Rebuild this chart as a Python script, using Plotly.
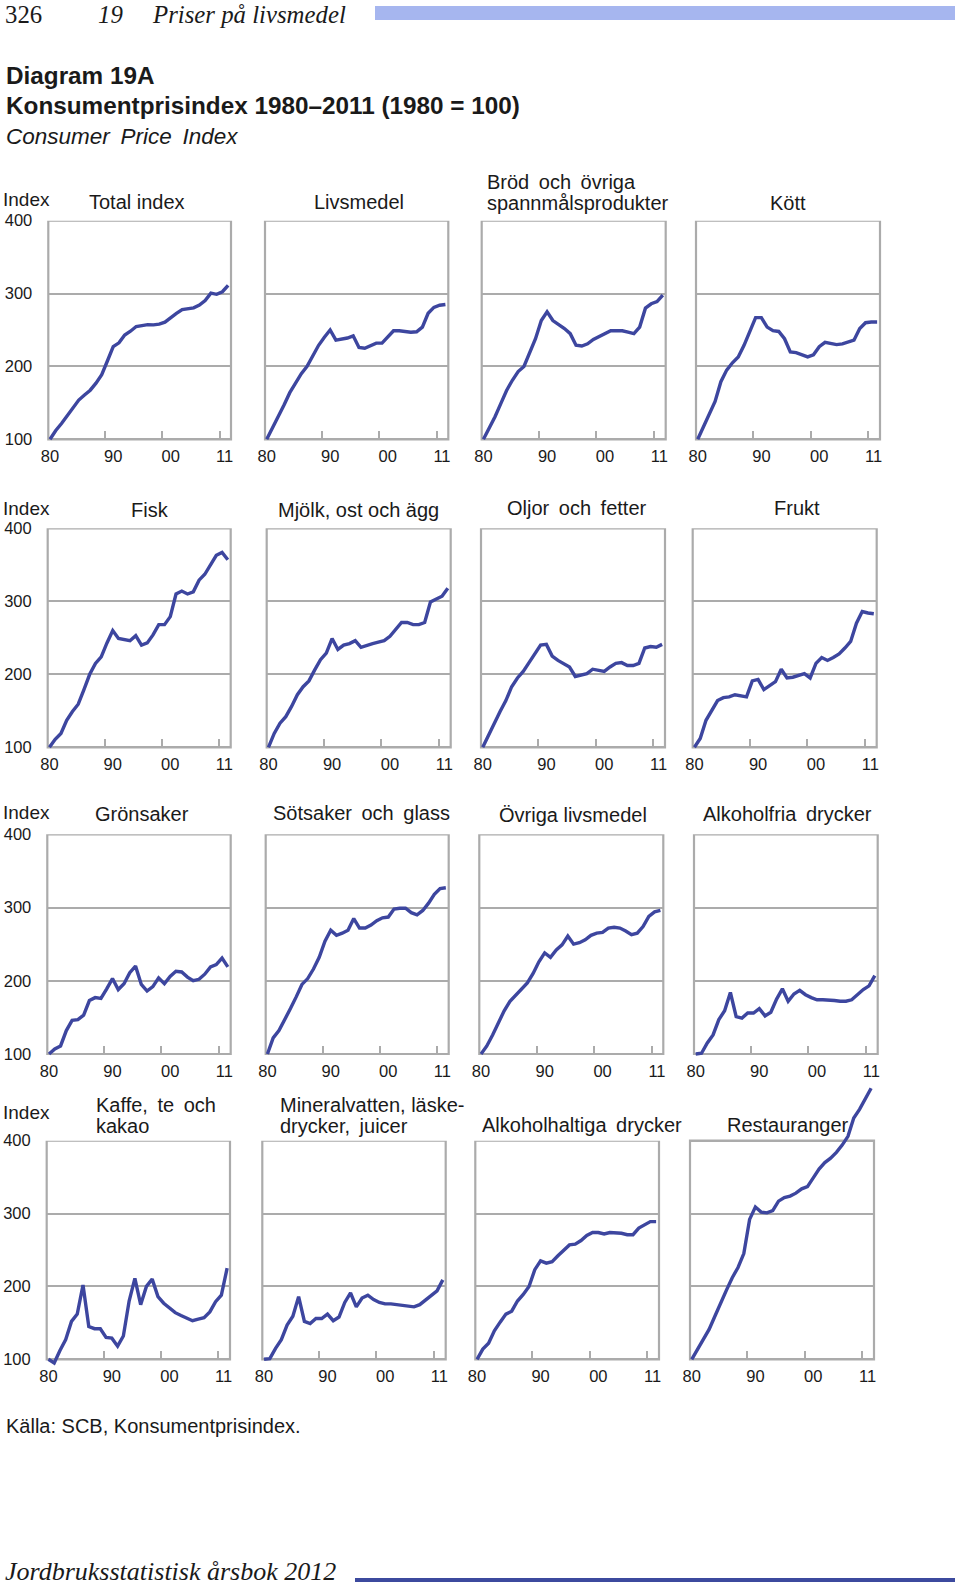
import plotly.graph_objects as go

# ---------------- data ----------------
YEARS = list(range(1980, 2012))

TITLES = [
    "Total index", "Livsmedel", "Bröd \u2009och \u2009övriga|spannmålsprodukter", "Kött",
    "Fisk", "Mjölk, ost och ägg", "Oljor \u2009och \u2009fetter", "Frukt",
    "Grönsaker", "Sötsaker \u2009och \u2009glass", "Övriga livsmedel", "Alkoholfria \u2009drycker",
    "Kaffe, \u2009te \u2009och|kakao", "Mineralvatten, läske-|drycker, \u2009juicer",
    "Alkoholhaltiga \u2009drycker", "Restauranger",
]

total_index = [100, 112.1, 121.7, 132.1, 142.9, 153.8, 160.8, 167.4, 177.1, 188.6, 207.8,
               227.2, 232.4, 243.2, 248.3, 254.8, 256.0, 257.3, 257.0, 258.1, 260.8,
               267.1, 272.8, 278.1, 279.2, 280.4, 284.2, 290.5, 300.6, 299.0, 302.5, 311.4]
livsmedel = [100, 115, 131, 147, 164, 177, 190, 200, 215, 229, 240,
             250, 236, 237, 239, 242, 226, 225, 228, 232, 232,
             241, 249, 249, 248, 247, 247.5, 254, 273, 281, 284, 285]
brod = [100, 115, 131, 149, 167, 181, 193, 200, 218, 238, 263,
        275, 263, 258, 252, 245, 229, 228, 231, 237, 241,
        244, 249, 249, 249, 247, 245, 254, 280, 286, 289, 298]
kott = [100, 117, 133, 152, 179, 195, 205, 213, 229, 247, 267,
        267, 254, 249, 248, 238, 220, 219, 216, 213, 216,
        227, 233, 232, 230, 231, 234, 236, 252, 260, 261, 261]
fisk = [100, 111, 119, 137, 149, 159, 179, 200, 215, 224, 243,
        260, 249, 248, 246, 253, 240, 243, 254, 268, 268,
        279, 310, 314, 310, 313, 329, 337, 351, 363, 367, 357]
mjolk = [100, 119, 133, 142, 156, 172, 183, 191, 206, 220, 229,
         249, 234, 240, 242, 246, 237, 240, 242, 244, 246,
         252, 262, 271, 271, 268, 268, 271, 299, 303, 307, 318]
oljor = [100, 117, 133, 149, 164, 183, 195, 204, 216, 229, 240,
         241, 225, 219, 214, 210, 197, 199, 201, 207, 206,
         204, 210, 215, 216, 212, 212, 215, 236, 238, 237, 241]
frukt = [100, 112, 137, 151, 164, 168, 169, 172, 171, 169, 191,
         193, 179, 184, 190, 207, 195, 196, 199, 201, 195,
         215, 223, 219, 223, 228, 236, 245, 270, 286, 284, 283]
gronsaker = [100, 107, 111, 132, 146, 147, 153, 173, 177, 176, 189,
             203, 188, 196, 211, 220, 195, 186, 192, 204, 196,
             206, 213, 212, 205, 200, 202, 209, 219, 222, 231, 219]
sotsaker = [100, 122, 132, 146, 162, 178, 195, 203, 216, 232, 254,
            269, 262, 265, 269, 285, 272, 272, 276, 282, 286,
            287, 298, 299, 299, 293, 290, 296, 306, 318, 326, 327]
ovriga = [100, 111, 126, 143, 159, 172, 180, 188, 197, 210, 226,
          238, 232, 242, 249, 261, 250, 252, 256, 262, 265,
          266, 272, 273, 272, 268, 263, 265, 274, 288, 294, 296]
alkoholfria = [100, 101, 115, 126, 147, 159, 184, 151, 149, 156, 156,
               162, 152, 157, 175, 189, 172, 182, 187, 181, 177,
               174, 174, 174, 173, 172, 172, 174, 181, 188, 193, 207]
kaffe = [100, 95, 112, 127, 152, 162, 202, 145, 142, 142, 130,
         129, 118, 132, 180, 211, 175, 200, 210, 186, 177,
         170, 164, 160, 156, 153, 155, 157, 165, 179, 188, 225]
mineral = [100, 101, 115, 127, 147, 159, 186, 152, 149, 156, 156,
           162, 153, 158, 178, 191, 172, 184, 188, 182, 178,
           176, 176, 175, 175, 173, 172, 175, 181, 188, 194, 209]
alkoholhaltiga = [100, 114, 122, 139, 151, 162, 166, 180, 189, 200, 223,
                  235, 232, 234, 242, 249, 257, 258, 263, 270, 274,
                  274, 272, 274, 274, 273, 271, 271, 280, 285, 289, 289]
restauranger = [100, 113, 126, 141, 159, 178, 195, 212, 226, 245, 292,
                309, 302, 301, 304, 317, 322, 324, 328, 334, 337,
                349, 361, 370, 376, 384, 394, 406, 431, 443, 457, 472]

SERIES = [total_index, livsmedel, brod, kott,
          fisk, mjolk, oljor, frukt,
          gronsaker, sotsaker, ovriga, alkoholfria,
          kaffe, mineral, alkoholhaltiga, restauranger]

Y_TICKS = [100, 200, 300, 400]
X_TICK_TEXT = ["80", "90", "00", "11"]

# ---------------- layout / style ----------------
W, H = 960, 1591
LINE_COLOR = "#3d469f"
FRAME_COLOR = "#ababab"
TEXT_COLOR = "#1a1a1a"
SANS = "Liberation Sans, Arial, sans-serif"
SERIF = "Liberation Serif, Times New Roman, serif"

X_RANGE = [1979.7, 2011.5]
X_LABEL_POS = [1980, 1991.0, 2001.0, 2010.4]
X_MINOR_POS = [1989.6, 1999.5, 2009.5]

ROW_FRAMES = [(220.7, 439.3), (528.3, 747.3), (834.3, 1054.0), (1140.7, 1359.3)]
COL_FRAMES = [
    [(48.3, 231.0), (265.0, 448.3), (481.7, 665.7), (696.0, 880.0)],
    [(47.7, 230.7), (266.7, 450.7), (481.0, 665.0), (692.7, 876.7)],
    [(47.3, 230.7), (265.7, 448.7), (479.3, 663.3), (694.0, 877.7)],
    [(46.7, 230.0), (262.3, 445.7), (475.3, 659.0), (690.0, 874.0)],
]
# title placement: (x, y, anchor)
TITLE_POS = [
    (137, 202, "center"), (359, 202, "center"), (485, 192.5, "left"), (787.5, 203, "center"),
    (150, 510, "center"), (358.5, 510, "center"), (577, 508, "center"), (796.5, 508, "center"),
    (141.5, 814, "center"), (361, 813, "center"), (572.5, 815, "center"), (787.5, 814, "center"),
    (94, 1115.5, "left"), (278, 1115.5, "left"), (582, 1125, "center"), (788, 1125, "center"),
]
INDEX_Y = [200, 509, 812, 1112]


def px(x):
    return x / W


def py(y):
    return 1 - y / H


fig = go.Figure()
layout = {}
shapes = []
annotations = []

for i, series in enumerate(SERIES):
    n = i + 1
    r, c = divmod(i, 4)
    top, bot = ROW_FRAMES[r]
    left, right = COL_FRAMES[r][c]
    k = (bot - top) / 300.0
    ymin = 88
    ymax = 480 if i == 15 else 400
    dom_bot = bot + (100 - ymin) * k
    dom_top = top - (ymax - 400) * k
    xa = "x" if n == 1 else f"x{n}"
    ya = "y" if n == 1 else f"y{n}"
    xk = "xaxis" if n == 1 else f"xaxis{n}"
    yk = "yaxis" if n == 1 else f"yaxis{n}"

    fig.add_trace(go.Scatter(
        x=YEARS, y=series, xaxis=xa, yaxis=ya, mode="lines",
        line=dict(color=LINE_COLOR, width=3.4), showlegend=False, hoverinfo="skip",
    ))

    layout[xk] = dict(
        domain=[px(left), px(right)], range=X_RANGE, anchor="free", position=py(bot),
        tickmode="array", tickvals=X_LABEL_POS, ticktext=X_TICK_TEXT, ticks="",
        showgrid=False, zeroline=False, showline=False, fixedrange=True,
        tickfont=dict(family=SANS, size=16.5, color=TEXT_COLOR), ticklabelstandoff=5,
        minor=dict(tickmode="array", tickvals=X_MINOR_POS, ticks="inside", ticklen=8,
                   tickwidth=2, tickcolor=FRAME_COLOR, showgrid=False),
    )
    layout[yk] = dict(
        domain=[py(dom_bot), py(dom_top)], range=[ymin, ymax], anchor=xa,
        tickmode="array", tickvals=Y_TICKS, ticktext=[str(v) for v in Y_TICKS],
        showticklabels=(c == 0), ticks="", showgrid=True, gridcolor=FRAME_COLOR,
        gridwidth=2, zeroline=False, showline=False, fixedrange=True,
        tickfont=dict(family=SANS, size=16.5, color=TEXT_COLOR), ticklabelstandoff=15,
    )
    shapes.append(dict(
        type="rect", xref=f"{xa} domain", yref=ya, x0=0, x1=1, y0=100, y1=400,
        line=dict(color=FRAME_COLOR, width=2.2), fillcolor="rgba(0,0,0,0)", layer="below",
    ))

    tx, ty, anc = TITLE_POS[i]
    lines = TITLES[i].split("|")
    if len(lines) == 1:
        annotations.append(dict(text=lines[0], x=px(tx), y=py(ty), xref="paper", yref="paper",
                                xanchor=anc, yanchor="middle", showarrow=False,
                                font=dict(family=SANS, size=20, color=TEXT_COLOR)))
    else:
        for j, t in enumerate(lines):
            annotations.append(dict(text=t, x=px(tx), y=py(ty - 10.5 + 21 * j), xref="paper", yref="paper",
                                    xanchor=anc, yanchor="middle", showarrow=False,
                                    font=dict(family=SANS, size=20, color=TEXT_COLOR)))

for yv in INDEX_Y:
    annotations.append(dict(text="Index", x=px(1), y=py(yv), xref="paper", yref="paper",
                            xanchor="left", yanchor="middle", showarrow=False,
                            font=dict(family=SANS, size=19, color=TEXT_COLOR)))

# header / footer (serif)
annotations += [
    dict(text="326", x=px(4), y=py(14.5), xanchor="left"),
    dict(text="<i>19</i>", x=px(97), y=py(14.5), xanchor="left"),
    dict(text="<i>Priser på livsmedel</i>", x=px(151), y=py(14.5), xanchor="left"),
    dict(text="<i>Jordbruksstatistisk årsbok 2012</i>", x=px(4), y=py(1571), xanchor="left"),
]
for a in annotations[-4:]:
    a.update(xref="paper", yref="paper", yanchor="middle", showarrow=False, borderpad=0,
             font=dict(family=SERIF, size=24.8, color=TEXT_COLOR))
annotations[-1]["font"] = dict(family=SERIF, size=26, color=TEXT_COLOR)

annotations += [
    dict(text="<b>Diagram 19A</b>", x=px(4), y=py(76), font=dict(family=SANS, size=24.3, color=TEXT_COLOR)),
    dict(text="<b>Konsumentprisindex 1980–2011 (1980 = 100)</b>", x=px(4), y=py(105.5),
         font=dict(family=SANS, size=24.3, color=TEXT_COLOR)),
    dict(text="<i>Consumer \u2009Price \u2009Index</i>", x=px(4), y=py(137),
         font=dict(family=SANS, size=22.5, color=TEXT_COLOR)),
    dict(text="Källa: SCB, Konsumentprisindex.", x=px(4), y=py(1426),
         font=dict(family=SANS, size=20, color=TEXT_COLOR)),
]
for a in annotations[-4:]:
    a.update(xref="paper", yref="paper", xanchor="left", yanchor="middle", showarrow=False)

shapes += [
    dict(type="rect", xref="paper", yref="paper", x0=px(375), x1=px(955), y0=py(20), y1=py(6),
         fillcolor="#a6b6ef", line=dict(width=0), layer="above"),
    dict(type="rect", xref="paper", yref="paper", x0=px(355), x1=px(955), y0=py(1582), y1=py(1578),
         fillcolor="#3c4a9e", line=dict(width=0), layer="above"),
]

fig.update_layout(
    width=W, height=H, margin=dict(l=0, r=0, t=0, b=0, pad=0, autoexpand=False),
    paper_bgcolor="white", plot_bgcolor="white", showlegend=False, hovermode=False,
    shapes=shapes, annotations=annotations, **layout,
)

fig.write_html(
    "out.html",
    config={"displayModeBar": False, "staticPlot": True},
    post_script="document.body.style.margin='0px';document.body.style.padding='0px';"
                "document.documentElement.style.overflow='hidden';",
)
